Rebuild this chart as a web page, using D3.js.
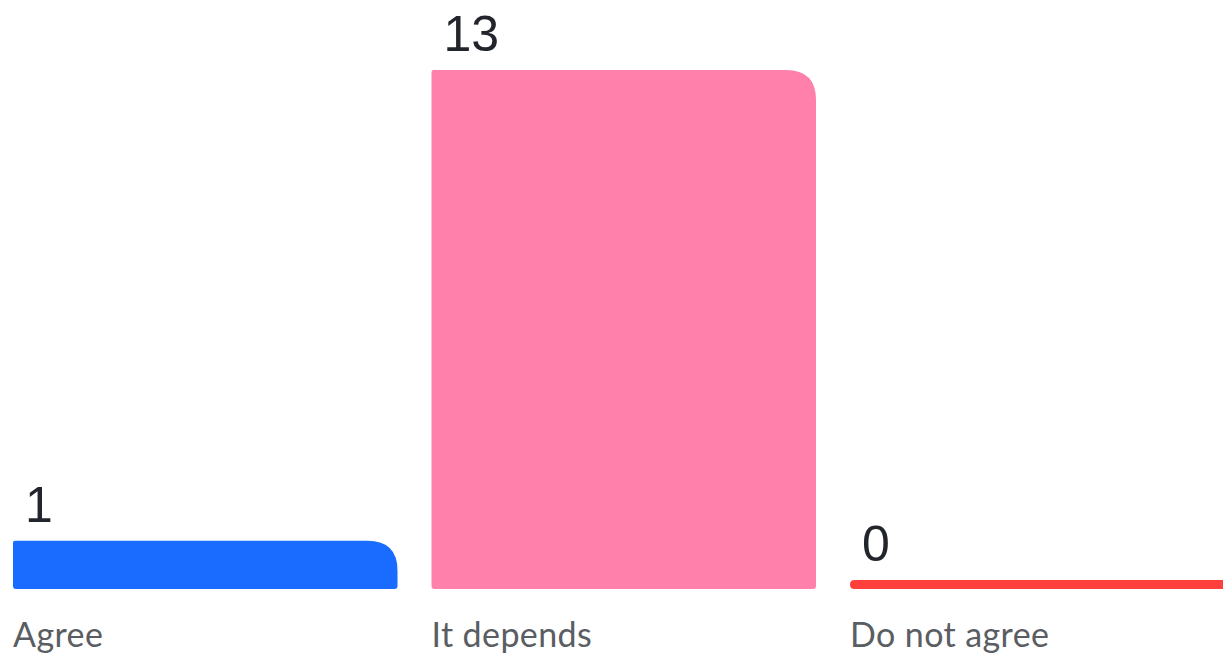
<!DOCTYPE html>
<html><head><meta charset="utf-8">
<script src="https://cdn.jsdelivr.net/npm/d3@7"></script>
<style>html,body{margin:0;padding:0;background:#fff;overflow:hidden}</style>
</head><body>
<svg id="chart" width="1223" height="658"></svg>
<script>
const categories = ["Agree", "It depends", "Do not agree"];
const values = [1, 13, 0];
const colors = ["#196CFF", "#FF80AB", "#FF403D"];

const svg = d3.select("#chart");
const x = d3.scaleBand().domain(categories).range([13, 1234.5]).paddingInner(0.0812).paddingOuter(0);
const y = d3.scaleLinear().domain([0, 13]).range([580, 70]);
const base = 589;

function barPath(x0, w, top, bottom) {
  const h = bottom - top;
  let tl, tr, br, bl;
  if (h <= 12) { tl = tr = br = bl = h / 2; }
  else { tr = Math.min(30, h - 6); tl = 2; br = 3; bl = 3; }
  const x1 = x0 + w;
  return `M${x0},${top + tl} Q${x0},${top} ${x0 + tl},${top} L${x1 - tr},${top} Q${x1},${top} ${x1},${top + tr}` +
    ` L${x1},${bottom - br} Q${x1},${bottom} ${x1 - br},${bottom} L${x0 + bl},${bottom} Q${x0},${bottom} ${x0},${bottom - bl} Z`;
}

const g = svg.append("g");
categories.forEach((c, i) => {
  const x0 = x(c), w = x.bandwidth();
  const top = y(values[i]);
  g.append("path").attr("d", barPath(x0, w, top, base)).attr("fill", colors[i]);
  g.append("text").attr("x", x0 + 12).attr("y", top - 19)
    .attr("font-family", "Liberation Sans, Arial, sans-serif").attr("font-size", 50)
    .attr("fill", "#22252b").text(values[i]);
  g.append("text").attr("x", x0).attr("y", 647)
    .attr("font-family", "Lato, sans-serif").attr("font-size", 34)
    .attr("letter-spacing", 0.4)
    .attr("fill", "#5a5d62").text(c);
});
</script>
</body></html>
